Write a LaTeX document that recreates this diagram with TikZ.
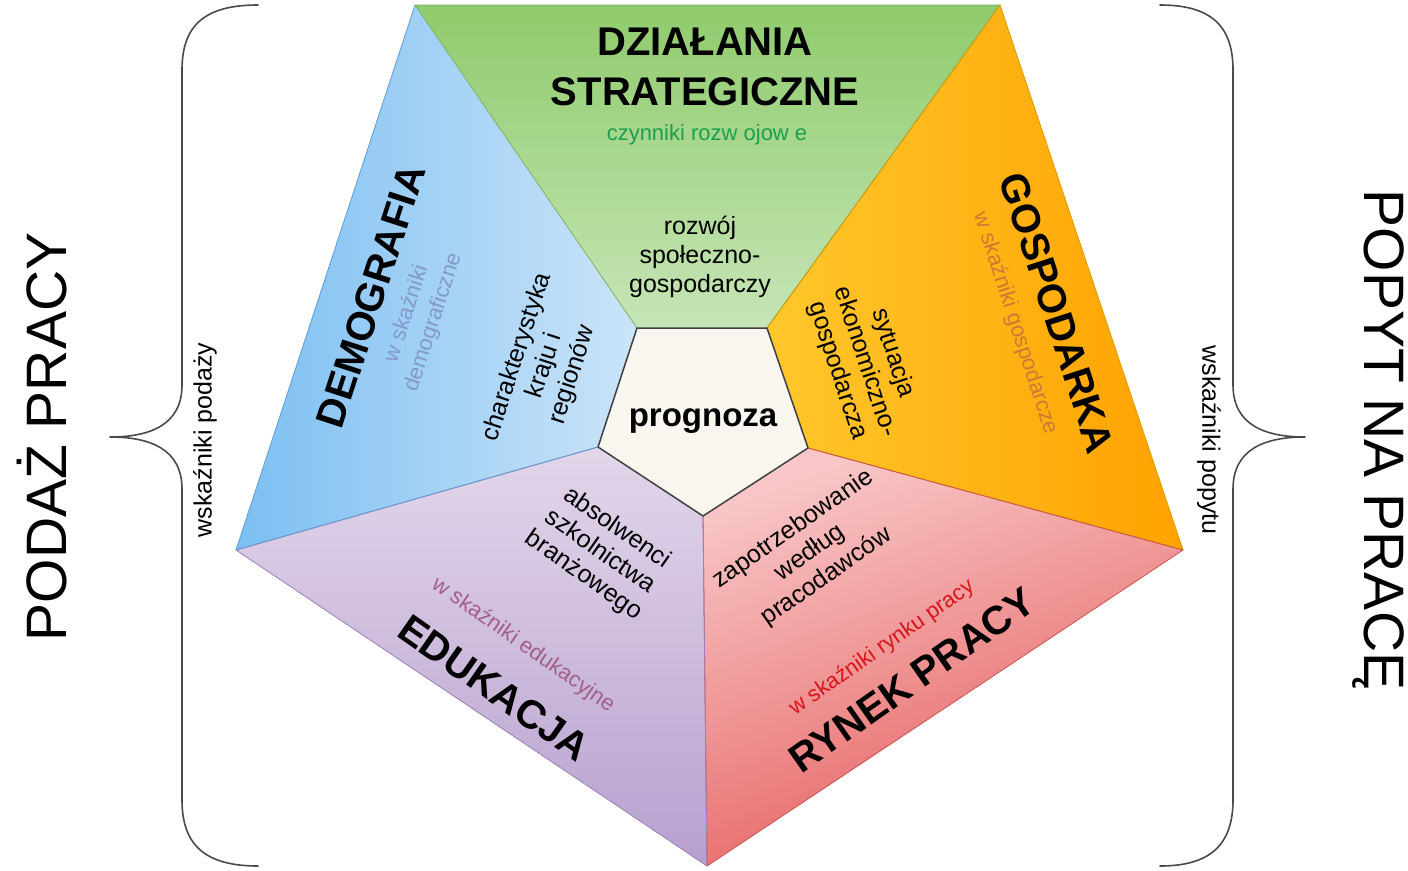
\documentclass[tikz,border=0pt]{standalone}
\usepackage{fontspec}
\setmainfont{Liberation Sans}
\definecolor{grT}{HTML}{8FCB6C}
\definecolor{grB}{HTML}{C7E5B7}
\definecolor{grE}{HTML}{7FB060}
\definecolor{blL}{HTML}{7CBFF2}
\definecolor{blR}{HTML}{CBE4F8}
\definecolor{blE}{HTML}{5E9BD5}
\definecolor{orL}{HTML}{FFC72C}
\definecolor{orR}{HTML}{FFA200}
\definecolor{orE}{HTML}{D99A00}
\definecolor{rdL}{HTML}{F8C6C6}
\definecolor{rdR}{HTML}{E55B5B}
\definecolor{rdE}{HTML}{C94F4F}
\definecolor{puT}{HTML}{E2D6EA}
\definecolor{puB}{HTML}{B7A0CF}
\definecolor{puE}{HTML}{9B7FB5}
\definecolor{core}{HTML}{F8F6EF}
\definecolor{coreE}{HTML}{404040}
\definecolor{txGreen}{HTML}{1A9F50}
\definecolor{txBlue}{HTML}{8499C9}
\definecolor{txOrange}{HTML}{CC7A33}
\definecolor{txPurple}{HTML}{A45E8A}
\definecolor{txRed}{HTML}{D9141A}
\definecolor{braceC}{HTML}{4A4A4A}
\begin{document}
\begin{tikzpicture}[x=1pt,y=-1pt,
  seg/.style={line width=0.8pt, line join=round},
  title/.style={font=\bfseries\fontsize{40}{50}\selectfont, inner sep=0pt, align=center},
  sub/.style={font=\fontsize{22}{28}\selectfont, inner sep=0pt, align=center},
  item/.style={font=\fontsize{25}{29}\selectfont, inner sep=0pt, align=center},
  side/.style={font=\fontsize{57}{60}\selectfont, inner sep=0pt},
  sidesub/.style={font=\fontsize{25}{28}\selectfont, inner sep=0pt},
  brace/.style={draw=braceC, line width=1.6pt, line cap=round, line join=round}]
\useasboundingbox (0,0) rectangle (1408,870);
% vertices
\coordinate (oTL) at (415,5);
\coordinate (oTR) at (1000,5);
\coordinate (oR) at (1183,550);
\coordinate (oB) at (707,866);
\coordinate (oL) at (236,550);
\coordinate (iTL) at (637,328);
\coordinate (iTR) at (767,328);
\coordinate (iR) at (808,448);
\coordinate (iB) at (703,516);
\coordinate (iL) at (598,447);
% segments
\shade[top color=grT, bottom color=grB] (oTL) -- (oTR) -- (iTR) -- (iTL) -- cycle;
\shade[left color=orL, right color=orR] (oTR) -- (oR) -- (iR) -- (iTR) -- cycle;
\shade[top color=rdL, bottom color=rdR, shading angle=20] (oR) -- (oB) -- (iB) -- (iR) -- cycle;
\shade[top color=puT, bottom color=puB] (oB) -- (oL) -- (iL) -- (iB) -- cycle;
\shade[left color=blL, right color=blR] (oL) -- (oTL) -- (iTL) -- (iL) -- cycle;
\draw[seg, grE] (iTL) -- (oTL) -- (oTR) -- (iTR);
\draw[seg, orE] (iTR) -- (oTR) -- (oR) -- (iR);
\draw[seg, rdE] (iR) -- (oR) -- (oB) -- (iB);
\draw[seg, puE] (iB) -- (oB) -- (oL) -- (iL);
\draw[seg, blE] (iL) -- (oL) -- (oTL);
% core
\filldraw[fill=core, draw=coreE, line width=1.5pt, line join=round] (iTL) -- (iTR) -- (iR) -- (iB) -- (iL) -- cycle;
\node[font=\bfseries\fontsize{33}{36}\selectfont, inner sep=0pt] (prog) at (703,421) {prognoza};
% green
\node[title] (ds) at (705,67) {DZIAŁANIA\\STRATEGICZNE};
\node[sub, text=txGreen] (czyn) at (707,135) {czynniki rozw ojow e};
\node[item] (rozw) at (700,257) {rozwój\\społeczno-\\gospodarczy};
% blue
\node[title, rotate=72] (demo) at (371,296) {DEMOGRAFIA};
\node[sub, text=txBlue, rotate=72] (demoW) at (420,318) {w skaźniki\\demograficzne};
\node[item, rotate=72] (char) at (545,366) {charakterystyka\\kraju i\\regionów};
% orange
\node[title, rotate=-72] (gosp) at (1057,313) {GOSPODARKA};
\node[sub, text=txOrange, rotate=-72] (gospW) at (1015,323) {w skaźniki gospodarcze};
\node[item, rotate=-72] (syt) at (865,362) {sytuacja\\ekonomiczno-\\gospodarcza};
% purple
\node[title, rotate=-35] (edu) at (494,688) {EDUKACJA};
\node[sub, text=txPurple, rotate=-35] (eduW) at (523,645) {w skaźniki edukacyjne};
\node[item, rotate=-35] (abs) at (600,552) {absolwenci\\szkolnictwa\\branżowego};
% red
\node[title, rotate=35] (ryn) at (912,680) {RYNEK PRACY};
\node[sub, text=txRed, rotate=35] (rynW) at (882,648) {w skaźniki rynku pracy};
\node[item, rotate=35] (zap) at (810,553) {zapotrzebowanie\\według\\pracodawców};
% braces
\draw[brace] (258,5) .. controls (205,5) and (182,25) .. (182,70) -- (182,385)
  .. controls (182,425) and (150,437) .. (110,437)
  .. controls (150,437) and (182,449) .. (182,489) -- (182,800)
  .. controls (182,845) and (205,866) .. (258,866);
\draw[brace] (1160,5) .. controls (1210,5) and (1233,25) .. (1233,70) -- (1233,385)
  .. controls (1233,425) and (1265,437) .. (1305,437)
  .. controls (1265,437) and (1233,449) .. (1233,489) -- (1233,800)
  .. controls (1233,845) and (1210,866) .. (1160,866);
% side labels
\node[side, rotate=90] (podaz) at (42,437) {PODAŻ PRACY};
\node[sidesub, rotate=90] (wpod) at (205,440) {wskaźniki podaży};
\node[side, rotate=-90] (popyt) at (1378,440) {POPYT NA PRACĘ};
\node[sidesub, rotate=-90] (wpop) at (1209,440) {wskaźniki popytu};
\end{tikzpicture}
\end{document}
